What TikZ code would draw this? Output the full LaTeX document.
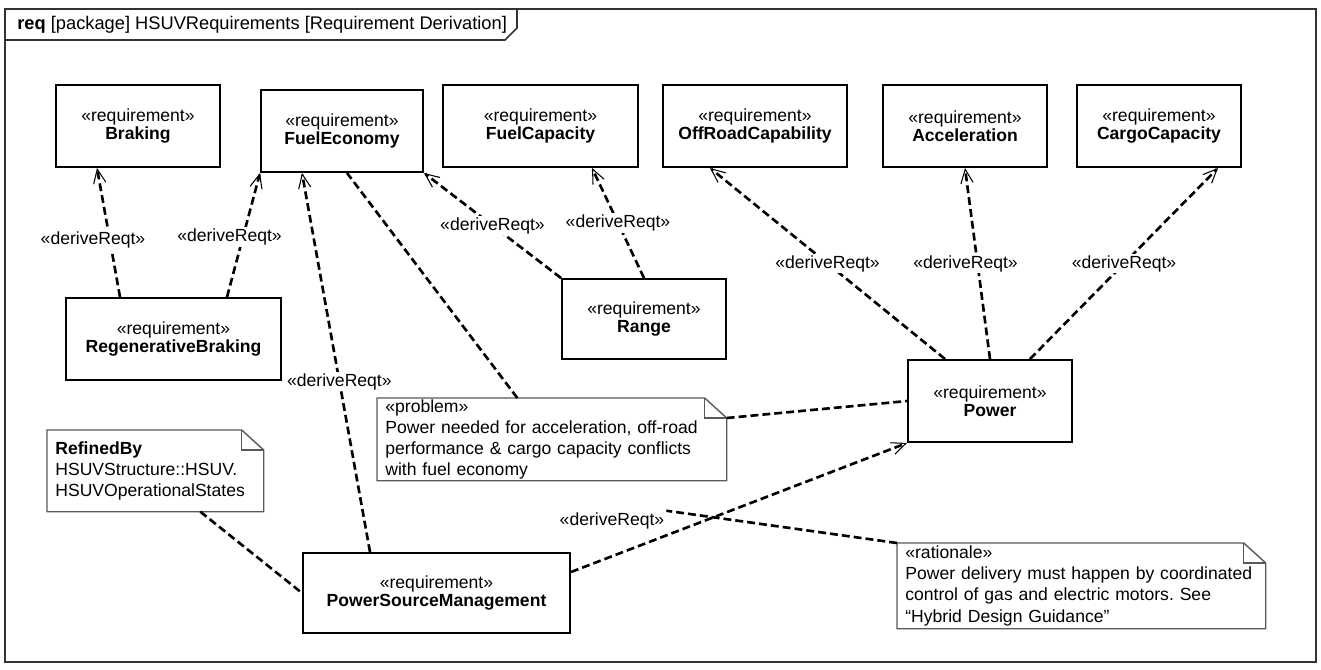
\documentclass[tikz,border=0pt]{standalone}
\usepackage{fontspec}
\setmainfont{Liberation Sans}
\usetikzlibrary{arrows.meta, positioning}
\frenchspacing

\begin{document}
\begin{tikzpicture}[
		font=\fontsize{10}{12}\selectfont,
		% --- ESTILOS DE LOS BLOQUES ---
		req_block/.style = {draw=black, rectangle, line width=1.1pt, minimum height=1.64cm, align=center, inner sep=2pt, font=\fontsize{10}{10.5}\selectfont},
		note_box/.style = {rectangle, anchor=north west, align=left, inner xsep=0.16cm, inner ysep=0pt},
		note_line/.style = {draw=black!65, line width=0.8pt},
		frame_line/.style = {draw=black!80, line width=0.9pt},
		% --- ESTILOS DE LOS CONECTORES ---
		trace_line/.style = {line width=1.5pt, dash pattern=on 4.5pt off 2.3pt},
		derive_line/.style = {trace_line, -{Straight Barb[length=8pt, width=7pt, line width=0.6pt]}},
		lbl/.style = {fill=white, inner sep=1pt}
		]
		
		\useasboundingbox (0,0) rectangle (26.42,-13.38);
		
		% =========================================================================
		% 1. MARCO DEL DIAGRAMA
		% =========================================================================
		\draw [frame_line] (0.10,-0.18) rectangle (26.32,-13.24);
		\draw [frame_line] (0.10,-0.80) -- (10.10,-0.80) -- (10.34,-0.56) -- (10.34,-0.18);
		\node [anchor=west, inner sep=0pt, font=\fontsize{10.4}{12}\selectfont] (title) at (0.34,-0.49) {\textbf{req} [package] HSUVRequirements [Requirement Derivation]};
		
		% =========================================================================
		% 2. REQUISITOS
		% =========================================================================
		% Fila superior
		\node [req_block, minimum width=3.28cm] (braking) at (2.76,-2.52) {«requirement»\\ \textbf{Braking}};
		\node [req_block, minimum width=3.24cm] (fuel_econ) at (6.84,-2.62) {«requirement»\\ \textbf{FuelEconomy}};
		\node [req_block, minimum width=3.90cm] (fuel_cap) at (10.81,-2.52) {«requirement»\\ \textbf{FuelCapacity}};
		\node [req_block, minimum width=3.68cm] (offroad) at (15.10,-2.52) {«requirement»\\ \textbf{OffRoadCapability}};
		\node [req_block, minimum width=3.28cm] (accel) at (19.30,-2.52) {«requirement»\\ \textbf{Acceleration}};
		\node [req_block, minimum width=3.28cm] (cargo) at (23.18,-2.52) {«requirement»\\ \textbf{CargoCapacity}};
		
		% Requisitos derivados
		\node [req_block, minimum width=4.30cm] (regen) at (3.47,-6.78) {«requirement»\\ \textbf{RegenerativeBraking}};
		\node [req_block, minimum width=3.28cm, minimum height=1.60cm] (range) at (12.88,-6.38) {«requirement»\\ \textbf{Range}};
		\node [req_block, minimum width=3.28cm] (power) at (19.80,-8.02) {«requirement»\\ \textbf{Power}};
		\node [req_block, minimum width=5.34cm, minimum height=1.60cm] (psm) at (8.73,-11.86) {«requirement»\\ \textbf{PowerSourceManagement}};
		
		% =========================================================================
		% 3. NOTAS
		% =========================================================================
		\node [note_box, text width=6.66cm, minimum height=1.64cm] (problem) at (7.54,-7.96) {«problem»\\ Power needed for acceleration, off-road\\ performance \& cargo capacity conflicts\\ with fuel economy};
		\node [note_box, text width=4.00cm, minimum height=1.62cm] (refined) at (0.94,-8.60) {\textbf{RefinedBy}\\ HSUVStructure::HSUV.\\ HSUVOperationalStates\\[2pt]};
		\node [note_box, text width=7.04cm, minimum height=1.70cm] (rationale) at (17.94,-10.86) {«rationale»\\ Power delivery must happen by coordinated\\ control of gas and electric motors. See\\ “Hybrid Design Guidance”};
		
		% Contorno con esquina doblada
		\foreach \n in {problem, refined, rationale} {
			\draw [note_line] (\n.north west) -- ([xshift=-0.44cm]\n.north east) -- ([yshift=-0.40cm]\n.north east) -- (\n.south east) -- (\n.south west) -- cycle;
			\draw [note_line] ([xshift=-0.44cm]\n.north east) |- ([yshift=-0.40cm]\n.north east);
		}
		
		% =========================================================================
		% 4. RELACIONES deriveReqt
		% =========================================================================
		\draw [derive_line] ([xshift=-1.07cm]regen.north) -- node[lbl, xshift=-0.31cm, yshift=-0.15cm] (l1) {«deriveReqt»} ([xshift=-0.82cm]braking.south);
		\draw [derive_line] ([xshift=1.07cm]regen.north) -- node[lbl, xshift=-0.28cm, yshift=-0.04cm] (l2) {«deriveReqt»} (fuel_econ.south west);
		\draw [derive_line] ([xshift=-1.33cm]psm.north) -- node[lbl, pos=0.45] (l3) {«deriveReqt»} ([xshift=-0.80cm]fuel_econ.south);
		\draw [derive_line] (range.north west) -- node[lbl] (l5) {«deriveReqt»} (fuel_econ.south east);
		\draw [derive_line] (range.north) -- node[lbl] (l6) {«deriveReqt»} ([xshift=1.03cm]fuel_cap.south);
		\draw [derive_line] ([xshift=-0.90cm]power.north) -- node[lbl] (l7) {«deriveReqt»} ([xshift=-0.90cm]offroad.south);
		\draw [derive_line] (power.north) -- node[lbl, xshift=-0.24cm] (l8) {«deriveReqt»} (accel.south);
		\draw [derive_line] ([xshift=0.80cm]power.north) -- node[lbl] (l9) {«deriveReqt»} ([xshift=1.18cm]cargo.south);
		\draw [derive_line] ([yshift=0.42cm]psm.east) -- (power.south west);
		\node [lbl, fill=none] (l11) at (12.24,-10.42) {«deriveReqt»};
		
		% =========================================================================
		% 5. ANCLAJES DE LAS NOTAS
		% =========================================================================
		\draw [trace_line] ([xshift=-0.69cm]problem.north) -- ([xshift=0.10cm]fuel_econ.south);
		\draw [trace_line] ([yshift=-0.40cm]problem.north east) -- (power.west);
		\draw [trace_line] (rationale.north west) -- (l11.north east);
		\draw [trace_line] ([xshift=0.90cm]refined.south) -- (psm.west);
		
	\end{tikzpicture}
\end{document}
